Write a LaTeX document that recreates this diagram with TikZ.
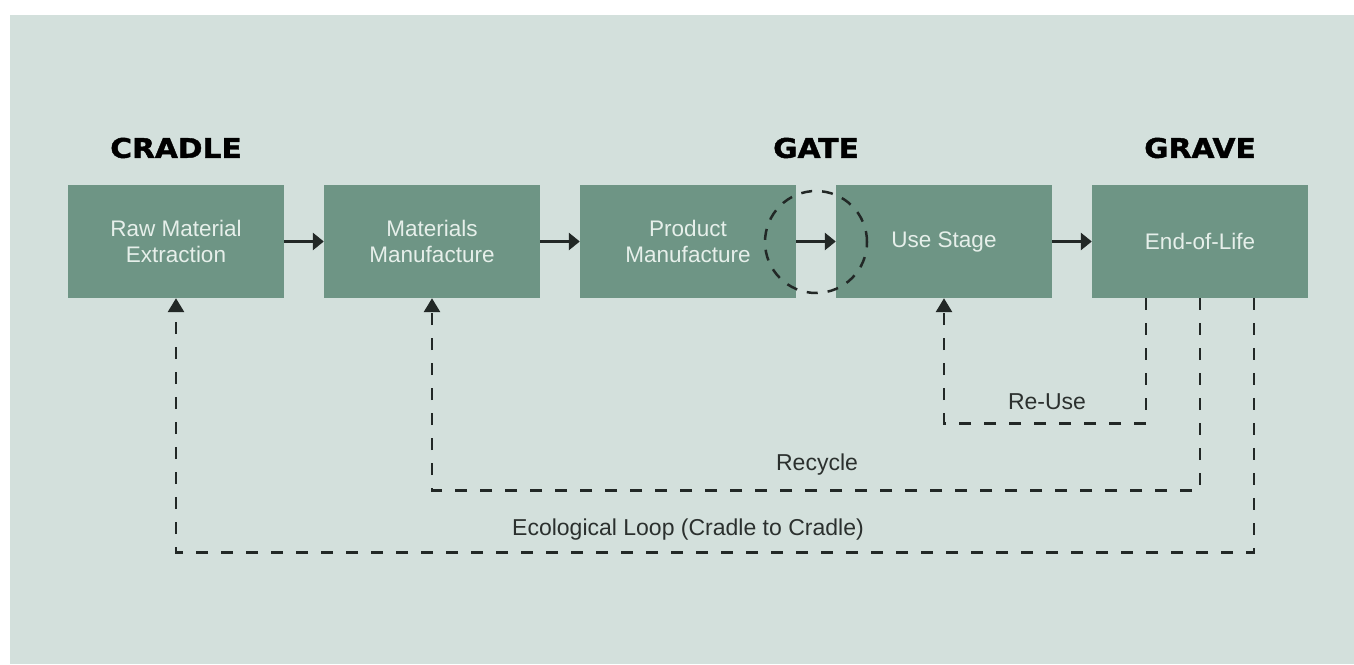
\documentclass[tikz,border=0pt]{standalone}
\usepackage{fontspec}
\setmainfont{Liberation Sans}
\newfontfamily\titlefont{DejaVu Sans}[BoldFeatures={FakeBold=1.5,FakeStretch=1.1}]
\usetikzlibrary{arrows.meta}
\definecolor{bgc}{HTML}{D3E0DC}
\definecolor{boxc}{HTML}{6E9585}
\definecolor{boxtxt}{HTML}{E6EFEA}
\definecolor{ink}{HTML}{222826}
\definecolor{lbl}{HTML}{2B302E}
\begin{document}
\begin{tikzpicture}[x=1pt,y=1pt,
  stagebox/.style={fill=boxc, draw=none, minimum width=216pt, minimum height=113pt,
    inner sep=0pt, align=center, text=boxtxt, font=\fontsize{22.5}{25.5}\selectfont},
  phase/.style={font=\titlefont\bfseries\fontsize{27}{30}\selectfont, text=black},
  flow/.style={draw=ink, line width=3pt, -{Triangle[length=11pt,width=17pt]}},
  loopline/.style={draw=ink, line width=2.8pt, dash pattern=on 12pt off 13pt,
    -{Triangle[length=14pt,width=16pt]}},
  looplabel/.style={text=lbl, font=\fontsize{23}{26}\selectfont},
  gatering/.style={circle, draw=ink, line width=2.5pt, dash pattern=on 11pt off 10pt,
    minimum size=102pt, inner sep=0pt}
]
\useasboundingbox (0,0) rectangle (1354,664);
\fill[white] (0,0) rectangle (1354,664);
\fill[bgc] (10,0) rectangle (1354,649);

\node[stagebox] (raw) at (176,422.5) {Raw Material\\Extraction};
\node[stagebox] (mat) at (432,422.5) {Materials\\Manufacture};
\node[stagebox] (prod) at (688,422.5) {Product\\Manufacture};
\node[stagebox] (use) at (944,422.5) {Use Stage};
\node[stagebox] (eol) at (1200,422.5) {End-of-Life};

\node[phase] (cradle) at (176,516) {CRADLE};
\node[phase] (gate) at (816,516) {GATE};
\node[phase] (grave) at (1200,516) {GRAVE};

\node[gatering] (ring) at (816,422) {};

\draw[flow] (raw) -- (mat);
\draw[flow] (mat) -- (prod);
\draw[flow] (prod) -- (use);
\draw[flow] (use) -- (eol);

\coordinate (reuseStart) at ([xshift=-54pt]eol.south);
\coordinate (recycleStart) at (eol.south);
\coordinate (ecoStart) at ([xshift=54pt]eol.south);

\draw[loopline] (reuseStart) -- ++(0,-125) -| (use.south);
\draw[loopline] (recycleStart) -- ++(0,-192) -| (mat.south);
\draw[loopline] (ecoStart) -- ++(0,-254) -| (raw.south);

\node[looplabel] (reuse) at (1047,262) {Re-Use};
\node[looplabel] (recycle) at (817,199) {Recycle};
\node[looplabel] (eco) at (688,134) {Ecological Loop (Cradle to Cradle)};
\end{tikzpicture}
\end{document}
